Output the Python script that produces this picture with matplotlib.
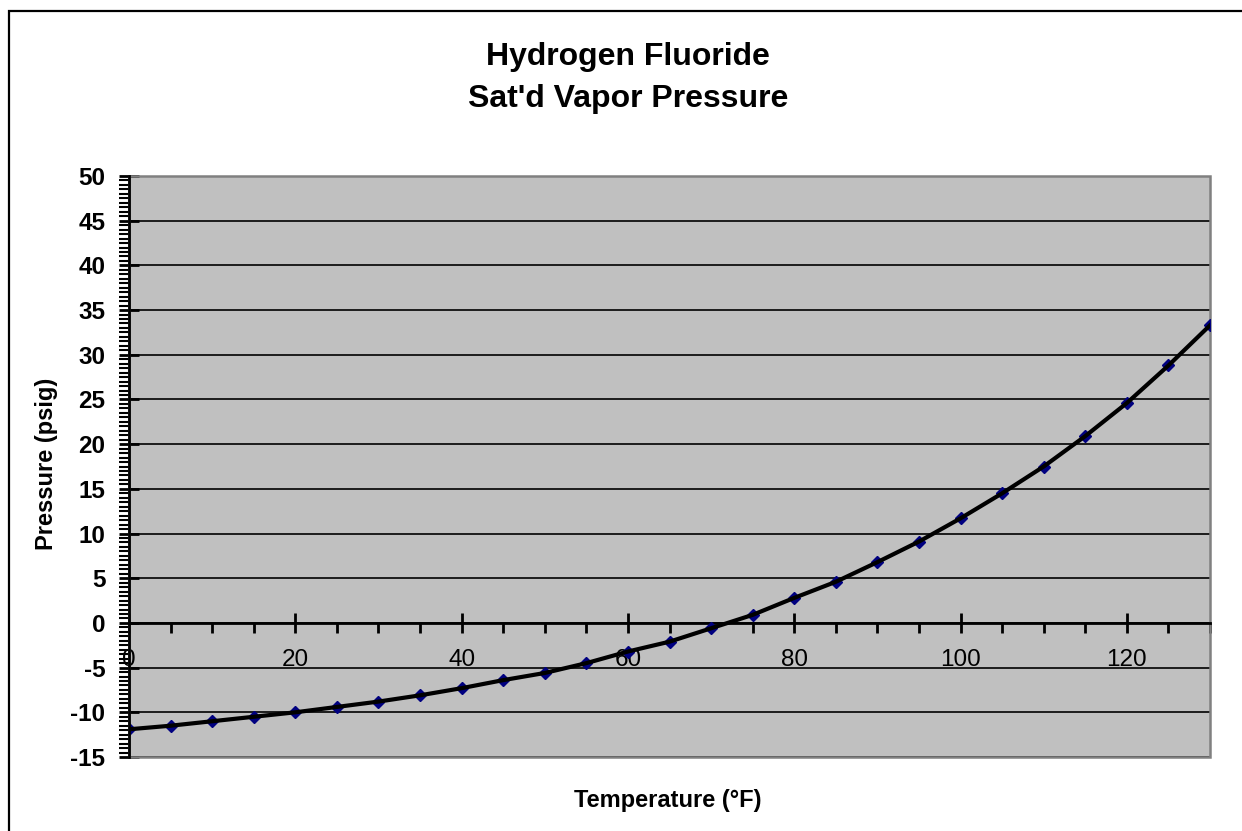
import matplotlib.pyplot as plt
from matplotlib.patches import Rectangle
from matplotlib.ticker import MultipleLocator

plt.rcParams["font.family"] = ["Liberation Sans", "DejaVu Sans"]
plt.rcParams["axes.unicode_minus"] = False

# saturated vapor pressure of HF
temps = [0, 5, 10, 15, 20, 25, 30, 35, 40, 45, 50, 55, 60, 65,
         70, 75, 80, 85, 90, 95, 100, 105, 110, 115, 120, 125, 130]
pressure = [-11.9, -11.5, -11.0, -10.5, -10.0, -9.4, -8.8, -8.1, -7.3, -6.4,
            -5.6, -4.5, -3.2, -2.1, -0.6, 0.9, 2.8, 4.6, 6.8, 9.1,
            11.7, 14.5, 17.5, 20.9, 24.6, 28.8, 33.3]

title_lines = ["Hydrogen Fluoride", "Sat'd Vapor Pressure"]
x_label = "Temperature (°F)"
y_label = "Pressure (psig)"

W, H = 1242, 831
fig = plt.figure(figsize=(W / 100, H / 100), dpi=100)
fig.patch.set_facecolor("white")

# chart area border (only top/left visible in the original crop)
fig.patches.append(Rectangle((9 / W, -0.5), 2.0, 1.5 - 11 / H,
                             transform=fig.transFigure, fill=False,
                             edgecolor="black", linewidth=1.6))

ax = fig.add_axes([129 / W, 1 - 757 / H, (1210 - 129) / W, (757 - 176) / H])
ax.set_facecolor("#C0C0C0")

ax.plot(temps, pressure, color="#000080", linewidth=1, marker="D",
        markersize=6, zorder=3)
ax.plot(temps, pressure, color="black", linewidth=3, zorder=4)

ax.set_xlim(0, 130)
ax.set_ylim(-15, 50)

ax.xaxis.set_major_locator(MultipleLocator(20))
ax.xaxis.set_minor_locator(MultipleLocator(5))
ax.yaxis.set_major_locator(MultipleLocator(5))
ax.yaxis.set_minor_locator(MultipleLocator(0.5))

ax.yaxis.grid(True, which="major", color="black", linewidth=1.2)
ax.set_axisbelow(True)

for s in ["top", "right"]:
    ax.spines[s].set_visible(False)
ax.spines["left"].set_color("black")
ax.spines["left"].set_linewidth(2)
ax.spines["left"].set_zorder(5)
ax.spines["bottom"].set_position(("data", 0))
ax.spines["bottom"].set_color("black")
ax.spines["bottom"].set_linewidth(2)

ax.add_patch(Rectangle((0, 0), 1, 1, transform=ax.transAxes, fill=False,
                       edgecolor="#808080", linewidth=1.8, zorder=2,
                       clip_on=False))

ax.tick_params(axis="x", which="major", direction="inout", length=14,
               width=2, labelsize=17.5, pad=12, colors="black")
ax.tick_params(axis="x", which="minor", direction="out", length=7, width=2)
ax.tick_params(axis="y", which="major", direction="inout", length=14,
               width=2, labelsize=17.5, pad=10)
ax.tick_params(axis="y", which="minor", direction="out", length=7, width=1.5)
for lbl in ax.get_yticklabels():
    lbl.set_fontweight("bold")
ax.set_xticks([0, 20, 40, 60, 80, 100, 120])
ax.set_xticklabels(["0", "20", "40", "60", "80", "100", "120"])

fig.text(628 / W, 1 - 65 / H, title_lines[0], ha="center", va="baseline",
         fontsize=23, fontweight="bold")
fig.text(628 / W, 1 - 107 / H, title_lines[1], ha="center", va="baseline",
         fontsize=23, fontweight="bold")
fig.text(668 / W, 1 - 807 / H, x_label, ha="center", va="baseline",
         fontsize=17, fontweight="bold")
fig.text(47 / W, 1 - 464 / H, y_label, ha="center", va="center",
         rotation=90, fontsize=17, fontweight="bold")

fig.savefig("out.png", dpi=100)
